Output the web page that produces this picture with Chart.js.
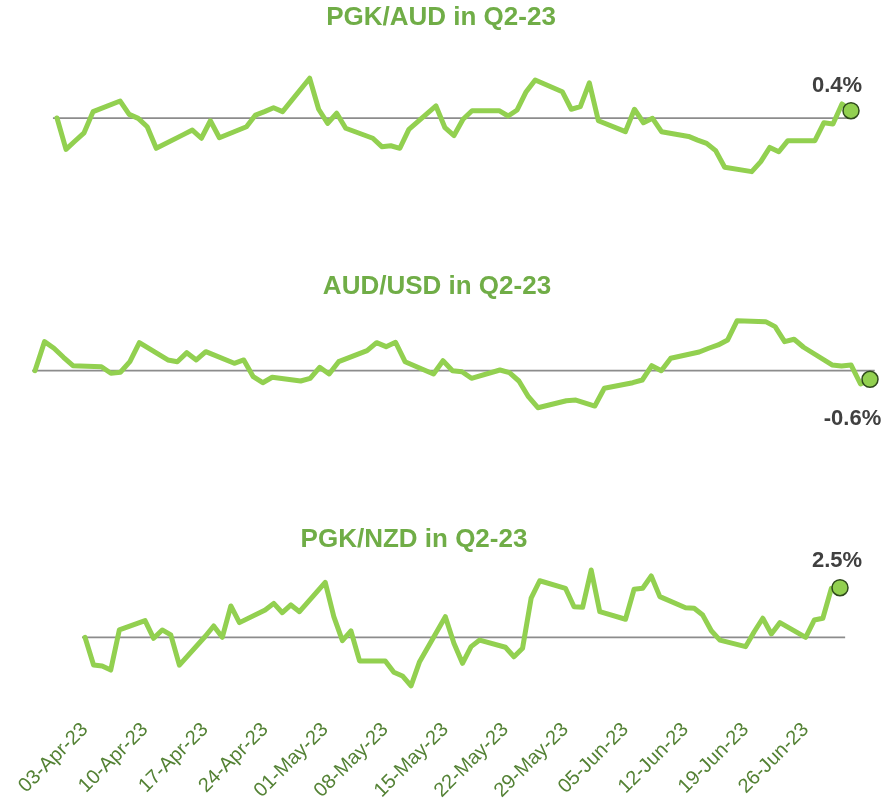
<!DOCTYPE html>
<html>
<head>
<meta charset="utf-8">
<title>Q2-23 currency moves</title>
<script src="https://cdn.jsdelivr.net/npm/chart.js@4.4.1/dist/chart.umd.min.js"></script>
<style>
    html, body { margin: 0; padding: 0; background: #ffffff; overflow: hidden; }
    body { position: relative; width: 886px; height: 799px; }
    canvas { position: absolute; }
</style>
</head>
<body>
<canvas id="chart-pgk-aud" width="890" height="250" style="left:-4px;top:0px"></canvas>
<canvas id="chart-aud-usd" width="898" height="250" style="left:-12px;top:269px"></canvas>
<canvas id="chart-pgk-nzd" width="944" height="277" style="left:-58px;top:522px"></canvas>

<script>
// trading days of Q2-23
const tradeDates = [
    "2023-04-03", "2023-04-04", "2023-04-05", "2023-04-06", "2023-04-07",
    "2023-04-10", "2023-04-11", "2023-04-12", "2023-04-13", "2023-04-14",
    "2023-04-17", "2023-04-18", "2023-04-19", "2023-04-20", "2023-04-21",
    "2023-04-24", "2023-04-25", "2023-04-26", "2023-04-27", "2023-04-28",
    "2023-05-01", "2023-05-02", "2023-05-03", "2023-05-04", "2023-05-05",
    "2023-05-08", "2023-05-09", "2023-05-10", "2023-05-11", "2023-05-12",
    "2023-05-15", "2023-05-16", "2023-05-17", "2023-05-18", "2023-05-19",
    "2023-05-22", "2023-05-23", "2023-05-24", "2023-05-25", "2023-05-26",
    "2023-05-29", "2023-05-30", "2023-05-31", "2023-06-01", "2023-06-02",
    "2023-06-05", "2023-06-06", "2023-06-07", "2023-06-08", "2023-06-09",
    "2023-06-12", "2023-06-13", "2023-06-14", "2023-06-15", "2023-06-16",
    "2023-06-19", "2023-06-20", "2023-06-21", "2023-06-22", "2023-06-23",
    "2023-06-26", "2023-06-27", "2023-06-28", "2023-06-29", "2023-06-30"
];

// cumulative % change since 03-Apr
const pgkAud = [
    0, -1.72, -1.26, -0.81, 0.35, 0.93, 0.20, -0.02, -0.48, -1.66,
    -0.91, -0.66, -1.11, -0.15, -1.08, -0.48, 0.16, 0.35, 0.56, 0.35,
    2.18, 0.48, -0.29, 0.26, -0.56, -1.11, -1.57, -1.52, -1.66, -0.62,
    0.66, -0.53, -0.96, -0.07, 0.40, 0.40, 0.11, 0.44, 1.44, 2.08,
    1.44, 0.48, 0.62, 1.93, -0.15, -0.75, 0.48, -0.26, -0.02, -0.75,
    -1.01, -1.21, -1.39, -1.79, -2.70, -2.94, -2.39, -1.61, -1.85, -1.24,
    -1.24, -0.26, -0.33, 0.77, 0.40
];

const audUsd = [
    0, 2.03, 1.57, 0.94, 0.35, 0.28, -0.18, -0.11, 0.63, 1.96,
    0.75, 0.63, 1.26, 0.75, 1.33, 0.52, 0.75, -0.42, -0.84, -0.46,
    -0.72, -0.53, 0.24, -0.23, 0.63, 1.40, 1.96, 1.68, 1.99, 0.63,
    -0.23, 0.70, 0.00, -0.07, -0.53, 0.05, -0.14, -0.72, -1.82, -2.59,
    -2.10, -2.05, -2.26, -2.47, -1.23, -0.84, -0.65, 0.35, 0.00, 0.87,
    1.31, 1.57, 1.80, 2.15, 3.50, 3.43, 3.08, 2.03, 2.20, 1.64,
    0.40, 0.33, 0.40, -0.93, -0.60
];

const pgkNzd = [
    0, -1.40, -1.45, -1.65, 0.37, 0.84, -0.05, 0.37, 0.12, -1.40,
    0.04, 0.57, 0.00, 1.58, 0.74, 1.38, 1.71, 1.24, 1.63, 1.29,
    2.77, 1.04, -0.17, 0.32, -1.19, -1.19, -1.76, -1.95, -2.45, -1.23,
    1.04, -0.30, -1.31, -0.47, -0.14, -0.50, -0.98, -0.55, 1.97, 2.85,
    2.47, 1.54, 1.51, 3.39, 1.29, 0.91, 2.42, 2.47, 3.09, 2.05,
    1.49, 1.46, 1.12, 0.33, -0.14, -0.47, 0.28, 0.96, 0.17, 0.74,
    0.00, 0.87, 0.96, 2.47, 2.50
];

const tickLabels = [
    "03-Apr-23", "10-Apr-23", "17-Apr-23", "24-Apr-23", "01-May-23", "08-May-23",
    "15-May-23", "22-May-23", "29-May-23", "05-Jun-23", "12-Jun-23", "19-Jun-23", "26-Jun-23"
];

(function () {
    "use strict";

    const FONT = '"Liberation Sans", Arial, Helvetica, sans-serif';
    const LINE_GREEN = "#92d050";
    const TITLE_GREEN = "#70ad47";
    const TICK_GREEN = "#548235";
    const MONTHS = ["Jan", "Feb", "Mar", "Apr", "May", "Jun", "Jul", "Aug", "Sep", "Oct", "Nov", "Dec"];
    const DAY_MS = 86400000;

    Chart.defaults.font.family = FONT;

    const t0 = Date.parse(tradeDates[0] + "T00:00:00Z");
    const dayOf = d => (Date.parse(d + "T00:00:00Z") - t0) / DAY_MS;
    const xDays = tradeDates.map(dayOf);
    const lastDay = xDays[xDays.length - 1];

    // "03-Apr-23" -> days since first trade date
    const tickDays = tickLabels.map(s => {
        const t = Date.UTC(2000 + Number(s.slice(7, 9)), MONTHS.indexOf(s.slice(3, 6)), Number(s.slice(0, 2)));
        return (t - t0) / DAY_MS;
    });

    // label next to the last point
    const endLabel = {
        id: "endLabel",
        afterDatasetsDraw(chart, args, opts) {
            const meta = chart.getDatasetMeta(0);
            const pt = meta.data[meta.data.length - 1];
            const vals = chart.data.datasets[0].data;
            const last = vals[vals.length - 1].y;
            const ctx = chart.ctx;
            ctx.save();
            ctx.font = "bold 22px " + FONT;
            ctx.fillStyle = "#404040";
            ctx.textAlign = "center";
            ctx.textBaseline = "alphabetic";
            ctx.fillText(last.toFixed(1) + "%", pt.x + opts.dx, pt.y + opts.dy);
            ctx.restore();
        }
    };

    function drawPanel(cfg) {
        const canvas = document.getElementById(cfg.id);
        const W = canvas.width, H = canvas.height;
        const left = parseFloat(canvas.style.left);
        const top0 = parseFloat(canvas.style.top);
        const titleH = 2 + 26 * 1.2;
        const axisH = cfg.showAxis ? 90 : 0;

        // map day 0 / last day onto the wanted page pixels
        const xs = cfg.xStart - left, xe = cfg.xEnd - left;
        const pxPerDay = (xe - xs) / lastDay;
        const xMin = (0 - xs) / pxPerDay;
        const xMax = (W - xs) / pxPerDay;

        const zy = cfg.zeroY - top0;
        const yMax = (zy - titleH) / cfg.pxPerPct;
        const yMin = (zy - (H - axisH)) / cfg.pxPerPct;

        const lastIdx = cfg.values.length - 1;

        new Chart(canvas, {
            type: "line",
            data: {
                datasets: [{
                    data: cfg.values.map((v, i) => ({ x: xDays[i], y: v })),
                    borderColor: LINE_GREEN,
                    borderWidth: 5,
                    borderJoinStyle: "round",
                    borderCapStyle: "round",
                    tension: 0,
                    clip: false,
                    pointRadius: c => c.dataIndex === lastIdx ? 8 : 0,
                    pointBackgroundColor: LINE_GREEN,
                    pointBorderColor: "#2f4a1c",
                    pointBorderWidth: 1.5
                }, {
                    data: cfg.baseSpan.map(d => ({ x: d, y: 0 })),
                    borderColor: "#8c8c8c",
                    borderWidth: 1.75,
                    pointRadius: 0,
                    clip: false
                }]
            },
            options: {
                responsive: false,
                animation: false,
                events: [],
                layout: { autoPadding: false, padding: 0 },
                plugins: {
                    legend: { display: false },
                    tooltip: { enabled: false },
                    title: {
                        display: true,
                        text: cfg.title,
                        color: TITLE_GREEN,
                        font: { family: FONT, size: 26, weight: "bold", lineHeight: 1.2 },
                        padding: { top: 2, bottom: 0 }
                    },
                    endLabel: { dx: cfg.labelDx, dy: cfg.labelDy }
                },
                scales: {
                    x: {
                        type: "linear",
                        min: xMin,
                        max: xMax,
                        display: !!cfg.showAxis,
                        grid: { display: false, drawTicks: false },
                        border: { display: false },
                        afterBuildTicks: s => { s.ticks = tickDays.map(v => ({ value: v })); },
                        afterFit: s => { s.height = axisH; s.paddingLeft = 0; s.paddingRight = 0; },
                        ticks: {
                            autoSkip: false,
                            minRotation: 45,
                            maxRotation: 45,
                            padding: 9,
                            color: TICK_GREEN,
                            font: { family: FONT, size: 20 },
                            callback: (v, i) => tickLabels[i]
                        }
                    },
                    y: {
                        min: yMin,
                        max: yMax,
                        display: false
                    }
                }
            },
            plugins: [endLabel]
        });
    }

    document.addEventListener("DOMContentLoaded", function () {
        drawPanel({
            id: "chart-pgk-aud", title: "PGK/AUD in Q2-23", values: pgkAud,
            xStart: 57, xEnd: 851, zeroY: 118, pxPerPct: 18.25,
            baseSpan: [-0.45, 88], labelDx: -14, labelDy: -19
        });
        drawPanel({
            id: "chart-aud-usd", title: "AUD/USD in Q2-23", values: audUsd,
            xStart: 35, xEnd: 870, zeroY: 370.7, pxPerPct: 14.3,
            baseSpan: [-0.3, 88.5], labelDx: -17.5, labelDy: 45.7
        });
        drawPanel({
            id: "chart-pgk-nzd", title: "PGK/NZD in Q2-23", values: pgkNzd,
            xStart: 85, xEnd: 840, zeroY: 637.3, pxPerPct: 19.84,
            baseSpan: [-0.35, 88.6], labelDx: -3, labelDy: -21, showAxis: true
        });
    });
})();
</script>
</body>
</html>
